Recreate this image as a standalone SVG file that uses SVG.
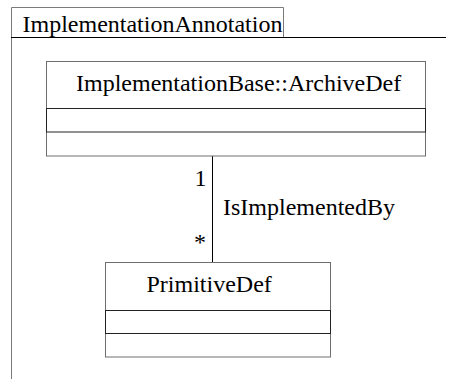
<svg xmlns="http://www.w3.org/2000/svg" width="451" height="379" viewBox="0 0 451 379">
<style>
text{font-family:"Liberation Serif","Times New Roman",serif;font-size:24px;fill:#000}
.outer{fill:#fff;stroke:#6e6e6e;stroke-width:1}
.mid{fill:none;stroke:#222;stroke-width:1}
.frame{fill:none;stroke:#7a7a7a;stroke-width:1}
.conn{stroke:#000;stroke-width:1;fill:none}
</style>
<rect width="451" height="379" fill="#fff"/>
<g id="package">
<path class="frame" d="M11.5,379 V7.5 H283.5 V37.5"/>
<line x1="11" y1="37.5" x2="446" y2="37.5" stroke="#000" stroke-width="1"/>
<text x="22.5" y="32">ImplementationAnnotation</text>
</g>
<g id="connectors">
<line class="conn" x1="212.5" y1="156" x2="212.5" y2="263"/>
<text x="206.5" y="186" text-anchor="end">1</text>
<text x="223" y="215">IsImplementedBy</text>
<text x="206" y="250" text-anchor="end">*</text>
</g>
<g id="ArchiveDef">
<rect class="outer" x="46.5" y="61.5" width="379" height="94.5"/>
<rect class="mid" x="46.5" y="108.5" width="379" height="23.5"/>
<text x="76" y="90.5">ImplementationBase::ArchiveDef</text>
</g>
<g id="PrimitiveDef">
<rect class="outer" x="105.5" y="262.5" width="225" height="94.5"/>
<rect class="mid" x="105.5" y="310.5" width="225" height="23"/>
<text x="146.5" y="292">PrimitiveDef</text>
</g>
</svg>
